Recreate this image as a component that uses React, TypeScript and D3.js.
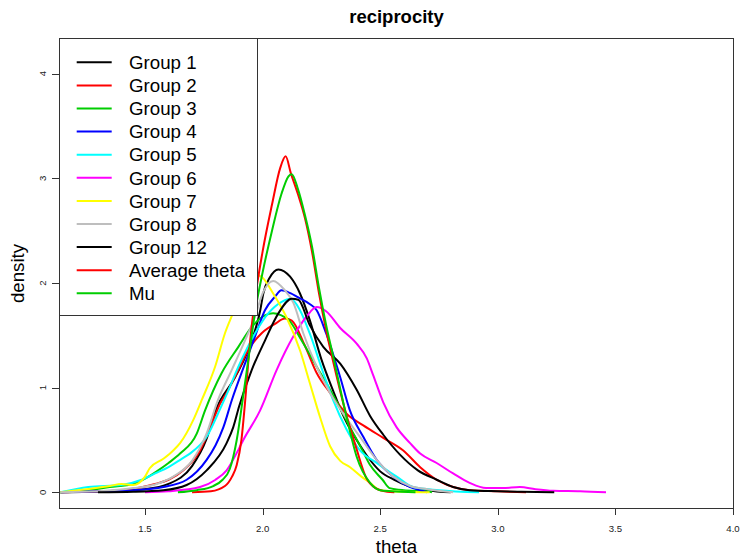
import React from "react";
import * as d3 from "d3";

type P = [number, number];

const group1: P[] = [[1.14,0],[1.35,0.01],[1.5,0.03],[1.6,0.08],[1.7,0.25],[1.76,0.5],[1.8,0.78],[1.883,1.1],[1.954,1.45],[1.99,1.74],[2.003,1.9],[2.03,2.05],[2.067,2.13],[2.117,2.06],[2.159,1.9],[2.2,1.65],[2.25,1.27],[2.3,0.97],[2.35,0.7],[2.4,0.5],[2.45,0.33],[2.5,0.2],[2.56,0.12],[2.62,0.06],[2.7,0.02],[2.8,0]];
const group2: P[] = [[1.14,0],[1.3,0.01],[1.4,0.02],[1.543,0.08],[1.6,0.12],[1.663,0.21],[1.734,0.4],[1.79,0.69],[1.82,0.85],[1.847,0.95],[1.897,1.17],[1.939,1.36],[1.996,1.52],[2.053,1.61],[2.095,1.66],[2.124,1.64],[2.18,1.4],[2.23,1.14],[2.287,0.95],[2.357,0.75],[2.428,0.64],[2.513,0.52],[2.598,0.4],[2.67,0.24],[2.74,0.12],[2.81,0.05],[2.88,0.02],[3.0,0.01],[3.12,0]];
const group3: P[] = [[1.14,0],[1.25,0.02],[1.35,0.05],[1.45,0.08],[1.5,0.13],[1.55,0.2],[1.6,0.28],[1.649,0.37],[1.72,0.56],[1.755,0.78],[1.826,1.14],[1.897,1.39],[1.954,1.58],[2.01,1.69],[2.045,1.71],[2.08,1.69],[2.11,1.65],[2.166,1.45],[2.23,1.2],[2.287,0.98],[2.33,0.8],[2.372,0.62],[2.42,0.42],[2.457,0.26],[2.51,0.12],[2.54,0.04],[2.6,0.02],[2.7,0.01],[2.72,0]];
const group4: P[] = [[1.14,0],[1.3,0.01],[1.45,0.02],[1.578,0.05],[1.677,0.12],[1.762,0.31],[1.8,0.45],[1.833,0.62],[1.869,0.88],[1.925,1.23],[1.968,1.49],[2.01,1.74],[2.053,1.87],[2.08,1.93],[2.12,1.9],[2.145,1.87],[2.2,1.8],[2.23,1.74],[2.27,1.52],[2.33,1.1],[2.37,0.79],[2.428,0.53],[2.485,0.31],[2.556,0.15],[2.627,0.05],[2.67,0.02],[2.7,0]];
const group5: P[] = [[1.14,0],[1.259,0.05],[1.4,0.07],[1.486,0.12],[1.543,0.18],[1.6,0.24],[1.656,0.32],[1.691,0.37],[1.762,0.53],[1.82,0.8],[1.85,0.95],[1.897,1.2],[1.968,1.52],[2.024,1.71],[2.081,1.82],[2.12,1.85],[2.159,1.74],[2.2,1.52],[2.258,1.14],[2.3,0.88],[2.357,0.6],[2.414,0.4],[2.485,0.28],[2.57,0.15],[2.64,0.05],[2.75,0.02],[2.92,0]];
const group6: P[] = [[1.5,0],[1.6,0.01],[1.734,0.05],[1.8,0.12],[1.847,0.21],[1.9,0.42],[1.918,0.5],[1.989,0.78],[2.06,1.17],[2.131,1.49],[2.187,1.68],[2.23,1.77],[2.27,1.73],[2.33,1.57],[2.4,1.42],[2.443,1.28],[2.47,1.12],[2.513,0.86],[2.57,0.62],[2.627,0.47],[2.67,0.37],[2.74,0.28],[2.81,0.18],[2.88,0.09],[2.95,0.04],[3.02,0.04],[3.094,0.05],[3.16,0.03],[3.236,0.015],[3.35,0.01],[3.46,0]];
const group7: P[] = [[1.14,0],[1.25,0.03],[1.35,0.06],[1.4,0.08],[1.45,0.07],[1.5,0.15],[1.52,0.23],[1.578,0.32],[1.62,0.4],[1.649,0.47],[1.705,0.69],[1.741,0.88],[1.798,1.2],[1.84,1.52],[1.87,1.69],[1.9,1.85],[1.94,2.0],[1.975,2.08],[2.0,2.05],[2.045,1.9],[2.1,1.68],[2.16,1.35],[2.2,1.05],[2.244,0.72],[2.287,0.44],[2.33,0.3],[2.372,0.24],[2.42,0.15],[2.457,0.09],[2.5,0.02],[2.6,0.005],[2.71,0]];
const group8: P[] = [[1.14,0],[1.3,0.01],[1.45,0.04],[1.55,0.08],[1.62,0.15],[1.7,0.3],[1.76,0.55],[1.81,0.88],[1.869,1.17],[1.925,1.45],[1.968,1.68],[2.0,1.9],[2.045,2.02],[2.095,1.93],[2.131,1.81],[2.173,1.52],[2.23,1.2],[2.287,0.95],[2.343,0.75],[2.414,0.53],[2.485,0.31],[2.556,0.15],[2.627,0.06],[2.7,0.03],[2.81,0]];
const group12: P[] = [[1.3,0],[1.45,0.005],[1.578,0.02],[1.677,0.07],[1.762,0.21],[1.847,0.47],[1.875,0.62],[1.9,0.82],[1.954,1.17],[2.01,1.45],[2.067,1.71],[2.124,1.85],[2.152,1.84],[2.2,1.6],[2.258,1.39],[2.33,1.23],[2.4,0.98],[2.457,0.73],[2.513,0.55],[2.584,0.36],[2.66,0.21],[2.74,0.12],[2.81,0.05],[2.88,0.02],[3.0,0.01],[3.1,0.005],[3.24,0]];
const avgTheta: P[] = [[1.7,0],[1.78,0.01],[1.84,0.06],[1.87,0.15],[1.89,0.26],[1.91,0.5],[1.925,0.85],[1.945,1.4],[1.965,1.8],[2.0,2.3],[2.04,2.75],[2.075,3.1],[2.098,3.21],[2.12,3.05],[2.15,2.85],[2.18,2.62],[2.21,2.3],[2.24,1.9],[2.27,1.55],[2.3,1.25],[2.35,0.79],[2.4,0.41],[2.44,0.14],[2.48,0.04],[2.53,0.005],[2.56,0]];
const mu: P[] = [[1.64,0],[1.72,0.02],[1.79,0.06],[1.83,0.12],[1.86,0.22],[1.89,0.5],[1.915,0.88],[1.945,1.36],[1.97,1.75],[2.0,2.1],[2.04,2.5],[2.08,2.85],[2.11,3.02],[2.124,3.04],[2.15,2.9],[2.18,2.65],[2.21,2.35],[2.24,1.95],[2.27,1.6],[2.3,1.3],[2.357,0.72],[2.4,0.34],[2.457,0.09],[2.5,0.02],[2.55,0.01],[2.65,0]];

const seriesNames = ["Group 1","Group 2","Group 3","Group 4","Group 5","Group 6","Group 7","Group 8","Group 12","Average theta","Mu"];
const seriesData = [group1,group2,group3,group4,group5,group6,group7,group8,group12,avgTheta,mu];
const seriesColors = ["#000000","#FF0000","#00CD00","#0000FF","#00FFFF","#FF00FF","#FFFF00","#BEBEBE","#000000","#FF0000","#00CD00"];

const xTicks = [1.5,2.0,2.5,3.0,3.5,4.0];
const yTicks = [0,1,2,3,4];

const W = 740, H = 557;
const L = 59, R = 734, T = 38, B = 509;

export default function App() {
  const x = d3.scaleLinear().domain([1.5, 4.0]).range([145, 733]);
  const y = d3.scaleLinear().domain([0, 4]).range([492.3, 73.7]);
  const line = d3.line<P>().x(d => x(d[0])).y(d => y(d[1])).curve(d3.curveMonotoneX);
  const font = "'Liberation Sans', Arial, sans-serif";
  const legTop = 62.3, legStep = 23.1;
  return (
    <svg width={W} height={H} style={{ position: "absolute", left: 0, top: 0, background: "#fff" }} fontFamily={font}>
      <rect x={0} y={0} width={W} height={H} fill="#fff" />
      <text x={(L + R) / 2} y={22.5} textAnchor="middle" fontWeight="bold" fontSize={18.5} fill="#000">reciprocity</text>
      <defs>
        <clipPath id="plotclip"><rect x={L} y={T} width={R - L} height={B - T} /></clipPath>
      </defs>
      <g clipPath="url(#plotclip)">
        {seriesData.map((s, i) => (
          <path key={i} d={line(s) || ""} fill="none" stroke={seriesColors[i]} strokeWidth={2} strokeLinejoin="round" />
        ))}
      </g>
      <rect x={L + 0.5} y={T + 0.5} width={R - L - 1} height={B - T - 1} fill="none" stroke="#333" strokeWidth={1} />
      {xTicks.map(t => (
        <g key={t}>
          <line x1={Math.round(x(t)) + 0.5} x2={Math.round(x(t)) + 0.5} y1={B} y2={B + 6} stroke="#333" />
          <text x={x(t)} y={532} textAnchor="middle" fontSize={9.6} fill="#222">{t.toFixed(1)}</text>
        </g>
      ))}
      {yTicks.map(t => (
        <g key={t}>
          <line x1={L - 7} x2={L} y1={Math.round(y(t)) + 0.5} y2={Math.round(y(t)) + 0.5} stroke="#333" />
          <text transform={`translate(45.5,${y(t)}) rotate(-90)`} textAnchor="middle" fontSize={9.6} fill="#222">{t}</text>
        </g>
      ))}
      <text x={(L + R) / 2} y={553} textAnchor="middle" fontSize={18.7} fill="#000">theta</text>
      <text transform={`translate(24,${(T + B) / 2}) rotate(-90)`} textAnchor="middle" fontSize={18.7} fill="#000">density</text>
      <rect x={L + 0.5} y={T + 0.5} width={198} height={277} fill="#fff" stroke="#333" strokeWidth={1} />
      {seriesNames.map((n, i) => (
        <g key={n + i}>
          <line x1={76.7} x2={111.7} y1={legTop + i * legStep} y2={legTop + i * legStep} stroke={seriesColors[i]} strokeWidth={2} />
          <text x={129} y={legTop + i * legStep} dy="0.36em" fontSize={18.7} fill="#000">{n}</text>
        </g>
      ))}
    </svg>
  );
}
